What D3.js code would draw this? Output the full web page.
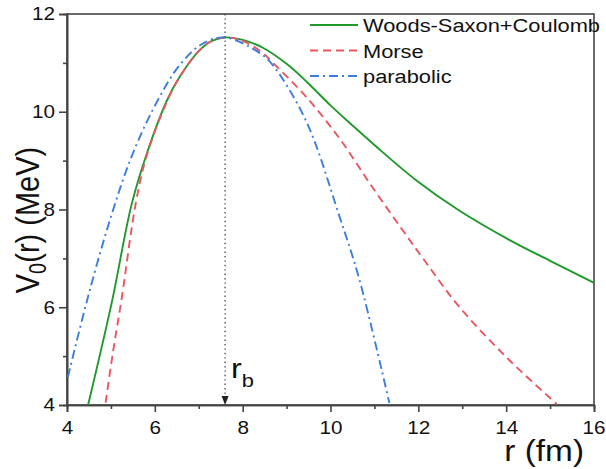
<!DOCTYPE html>
<html>
<head>
<meta charset="utf-8">
<script src="https://cdn.jsdelivr.net/npm/d3@7"></script>
<style>
body { margin: 0; background: #fff; }
text { font-family: "Liberation Sans", Arial, sans-serif; fill: #111; }
</style>
</head>
<body>
<div id="chart"></div>
<script>
// values
var wsR = [4.48, 5.02, 5.47, 5.82, 6.27, 6.57, 7.02, 7.3, 7.6, 8.0, 8.46, 9.0, 9.45, 10.0, 10.5, 11.0, 11.95, 12.93, 14.07, 15.0, 16.0];
var wsV = [4.0, 6.1, 8.1, 9.15, 10.22, 10.72, 11.26, 11.45, 11.52, 11.47, 11.31, 10.98, 10.62, 10.13, 9.72, 9.32, 8.6, 7.98, 7.38, 6.95, 6.5];

var morseR = [4.88, 5.05, 5.24, 5.57, 5.82, 6.27, 6.57, 7.02, 7.3, 7.6, 8.0, 8.46, 8.69, 9.45, 10.2, 10.92, 11.64, 12.17, 12.93, 14.07, 15.15];
var morseV = [4.05, 5.1, 6.15, 8.15, 9.12, 10.2, 10.72, 11.26, 11.45, 11.52, 11.45, 11.2, 11.0, 10.3, 9.46, 8.5, 7.58, 6.92, 6.01, 4.92, 4.02];

var parabR = [4.02, 4.46, 5.0, 5.5, 6.07, 6.57, 7.1, 7.6, 8.39, 8.69, 9.45, 10.2, 10.66, 11.34];
var parabV = [4.57, 6.15, 7.85, 9.15, 10.24, 10.96, 11.4, 11.52, 11.2, 10.95, 9.8, 7.87, 6.56, 4.04];

var seriesNames = ["Woods-Saxon+Coulomb", "Morse", "parabolic"];
var xTicks = [4, 6, 8, 10, 12, 14, 16];
var xMinor = [5, 7, 9, 11, 13, 15];
var yTicks = [4, 6, 8, 10, 12];
var yMinor = [5, 7, 9, 11];
var rBarrier = 7.6;

var W = 606, H = 469;
var margin = {left: 67, right: 12, top: 14, bottom: 64};
var sx = 1.15; // the picture's text is a bit wide

var svg = d3.select("#chart").append("svg")
    .attr("width", W)
    .attr("height", H);

var x = d3.scaleLinear().domain([4, 16]).range([margin.left, W - margin.right]);
var y = d3.scaleLinear().domain([4, 12]).range([H - margin.bottom, margin.top]);

var axisColor = "#444";

// clip to plot box
svg.append("clipPath").attr("id", "clip")
  .append("rect")
    .attr("x", x(4)).attr("y", y(12))
    .attr("width", x(16) - x(4)).attr("height", y(4) - y(12));

// box
svg.append("rect")
    .attr("x", x(4)).attr("y", y(12))
    .attr("width", x(16) - x(4)).attr("height", y(4) - y(12))
    .attr("fill", "none")
    .attr("stroke", axisColor)
    .attr("stroke-width", 1.6);

// axes
var xAxis = svg.append("g")
    .attr("transform", "translate(0," + y(4) + ")")
    .call(d3.axisBottom(x).tickValues(xTicks).tickSize(7).tickPadding(9).tickFormat(d3.format("d")));
var xAxisMinor = svg.append("g")
    .attr("transform", "translate(0," + y(4) + ")")
    .call(d3.axisBottom(x).tickValues(xMinor).tickSize(4).tickFormat(""));
var yAxis = svg.append("g")
    .attr("transform", "translate(" + x(4) + ",0)")
    .call(d3.axisLeft(y).tickValues(yTicks).tickSize(8).tickPadding(4).tickFormat(d3.format("d")));
var yAxisMinor = svg.append("g")
    .attr("transform", "translate(" + x(4) + ",0)")
    .call(d3.axisLeft(y).tickValues(yMinor).tickSize(4).tickFormat(""));

[xAxis, xAxisMinor, yAxis, yAxisMinor].forEach(function(g) {
    g.select(".domain").attr("stroke", axisColor).attr("stroke-width", 1.6);
    g.selectAll(".tick line").attr("stroke", axisColor).attr("stroke-width", 1.6);
    g.selectAll("text")
        .attr("font-size", 18)
        .attr("font-family", '"Liberation Sans", Arial, sans-serif')
        .attr("fill", "#111");
});
xAxis.selectAll("text").attr("transform", "scale(" + sx + ",1)");
// last label kept inside the page edge
xAxis.selectAll("text").filter(function(d) { return d === 16; })
    .attr("text-anchor", "end").attr("x", (W - 1 - x(16)) / sx);
yAxis.selectAll("text").attr("x", -12 / sx).attr("transform", "scale(" + sx + ",1)");

// series
var series = [
    {name: seriesNames[0], r: wsR, v: wsV, color: "#1f9a2a", dash: null},
    {name: seriesNames[1], r: morseR, v: morseV, color: "#ec5560", dash: "8,5"},
    {name: seriesNames[2], r: parabR, v: parabV, color: "#3d7ddb", dash: "9,4,2,4"}
];

var line = d3.line()
    .x(function(d) { return x(d[0]); })
    .y(function(d) { return y(d[1]); })
    .curve(d3.curveCatmullRom.alpha(0.5));

var plot = svg.append("g").attr("clip-path", "url(#clip)");

// barrier position marker
plot.append("line")
    .attr("x1", x(rBarrier)).attr("x2", x(rBarrier))
    .attr("y1", y(12)).attr("y2", y(4) - 8)
    .attr("stroke", "#555")
    .attr("stroke-width", 1.4)
    .attr("stroke-dasharray", "1.4,3");
svg.append("path")
    .attr("d", "M" + (x(rBarrier) - 3.5) + "," + (y(4) - 9) + "L" + (x(rBarrier) + 3.5) + "," + (y(4) - 9) + "L" + x(rBarrier) + "," + y(4) + "Z")
    .attr("fill", "#222");

series.forEach(function(s) {
    plot.append("path")
        .datum(d3.zip(s.r, s.v))
        .attr("d", line)
        .attr("fill", "none")
        .attr("stroke", s.color)
        .attr("stroke-width", 1.9)
        .attr("stroke-dasharray", s.dash);
});

// legend
var legend = svg.append("g");
series.forEach(function(s, i) {
    var ly = 25 + i * 25.5;
    legend.append("line")
        .attr("x1", 310).attr("x2", 358)
        .attr("y1", ly).attr("y2", ly)
        .attr("stroke", s.color)
        .attr("stroke-width", 1.9)
        .attr("stroke-dasharray", s.dash);
    legend.append("text")
        .attr("transform", "translate(363," + (ly + 7) + ") scale(" + sx + ",1)")
        .attr("font-size", 19)
        .text(s.name);
});

// r_b label
var rb = svg.append("text")
    .attr("transform", "translate(" + (x(rBarrier) + 6) + ",378) scale(" + sx + ",1)")
    .attr("font-size", 28);
rb.append("tspan").text("r");
rb.append("tspan").attr("font-size", 19).attr("dy", 9).text("b");

// axis titles
svg.append("text")
    .attr("transform", "translate(584,461) scale(" + sx + ",1)")
    .attr("text-anchor", "end")
    .attr("font-size", 29)
    .text("r (fm)");

var yt = svg.append("text")
    .attr("transform", "translate(39,220) scale(" + sx + ",1) rotate(-90)")
    .attr("text-anchor", "middle")
    .attr("font-size", 29);
yt.append("tspan").text("V");
yt.append("tspan").attr("font-size", 20).attr("dy", 6).text("0");
yt.append("tspan").attr("dy", -6).text("(r) (MeV)");
</script>
</body>
</html>
